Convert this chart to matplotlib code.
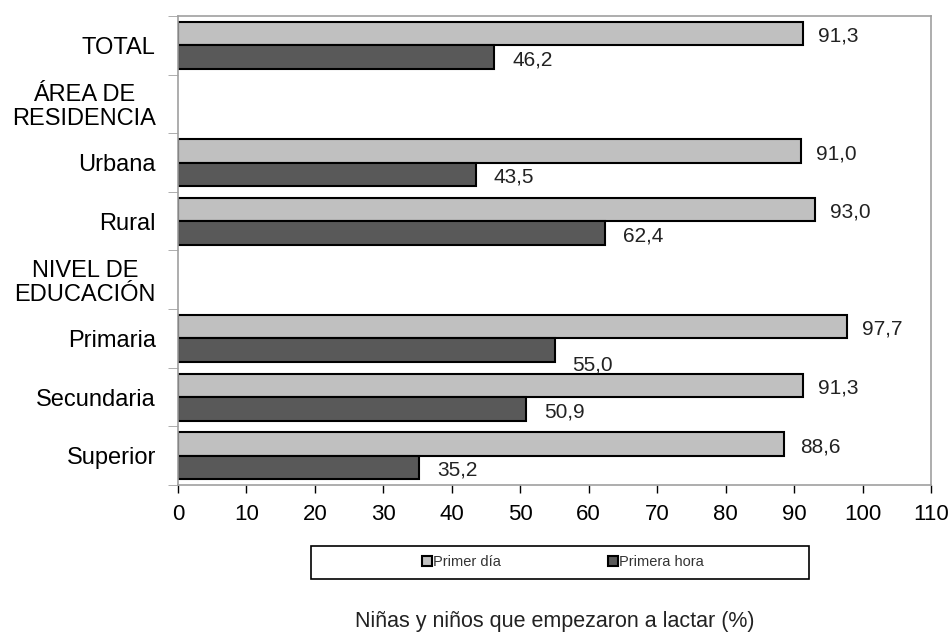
import numpy as np
import matplotlib
matplotlib.use("Agg")
import matplotlib.pyplot as plt
from matplotlib.patches import Rectangle

plt.rcParams['font.family'] = ['Liberation Sans', 'DejaVu Sans']

categories = ['TOTAL', 'ÁREA DE\nRESIDENCIA', 'Urbana', 'Rural',
              'NIVEL DE\nEDUCACIÓN', 'Primaria', 'Secundaria', 'Superior']
primer_dia = [91.3, np.nan, 91.0, 93.0, np.nan, 97.7, 91.3, 88.6]
primera_hora = [46.2, np.nan, 43.5, 62.4, np.nan, 55.0, 50.9, 35.2]
series_names = ['Primer día', 'Primera hora']
x_ticks = list(range(0, 111, 10))


def fmt(v):
    return f"{v:.1f}".replace('.', ',')


fig = plt.figure(figsize=(9.53, 6.34), dpi=100)
ax = fig.add_axes([0.1868, 0.235, 0.7901, 0.7398])

y = np.arange(len(categories))
h = 0.4
b1 = ax.barh(y - h / 2, primer_dia, height=h, color='#c0c0c0',
             edgecolor='black', linewidth=1.5, label=series_names[0])
b2 = ax.barh(y + h / 2, primera_hora, height=h, color='#595959',
             edgecolor='black', linewidth=1.5, label=series_names[1])

for i, v in enumerate(primer_dia):
    if not np.isnan(v):
        ax.annotate(fmt(v), (v, i - h / 2), xytext=(11, -2), textcoords='offset points',
                    va='center', ha='left', fontsize=15, color='#222222')
for i, v in enumerate(primera_hora):
    if not np.isnan(v):
        # the Primaria label sits a bit lower in the original
        dy = -9 if categories[i] == 'Primaria' else 0
        ax.annotate(fmt(v), (v, i + h / 2), xytext=(13, dy - 2), textcoords='offset points',
                    va='center', ha='left', fontsize=15, color='#222222')

ax.set_xlim(0, 110)
ax.set_ylim(len(categories) - 0.5, -0.5)
ax.set_xticks(x_ticks)
ax.tick_params(axis='x', direction='out', length=6, width=1, color='black',
               labelsize=16, pad=8)
ax.set_yticks(y)
ax.set_yticklabels(categories, fontsize=17, multialignment='center', linespacing=1.1)
ax.set_yticks(np.arange(-0.5, len(categories), 1), minor=True)
ax.tick_params(axis='y', which='major', length=0, pad=16)
ax.tick_params(axis='y', which='minor', length=7, color='#a0a0a0', direction='out')

for s in ax.spines.values():
    s.set_color('#a0a0a0')
    s.set_linewidth(1.2)

# legend box
fig.patches.append(Rectangle((311 / 953, 1 - 579 / 634), 498 / 953, 33 / 634,
                             transform=fig.transFigure, fill=False,
                             edgecolor='black', linewidth=1.2))
fig.legend(handles=[b1, b2], loc='center', bbox_to_anchor=(563 / 953, 1 - 562 / 634),
           ncol=2, frameon=False, fontsize=10.5, handlelength=0.7, handleheight=0.7,
           handletextpad=0.1, columnspacing=7.3, labelcolor='#333333')

fig.text(0.1868 + 0.7901 / 2, 2 / 634, 'Niñas y niños que empezaron a lactar (%)',
         ha='center', va='bottom', fontsize=15.5, color='#222222')

fig.savefig('out.png', dpi=100)
